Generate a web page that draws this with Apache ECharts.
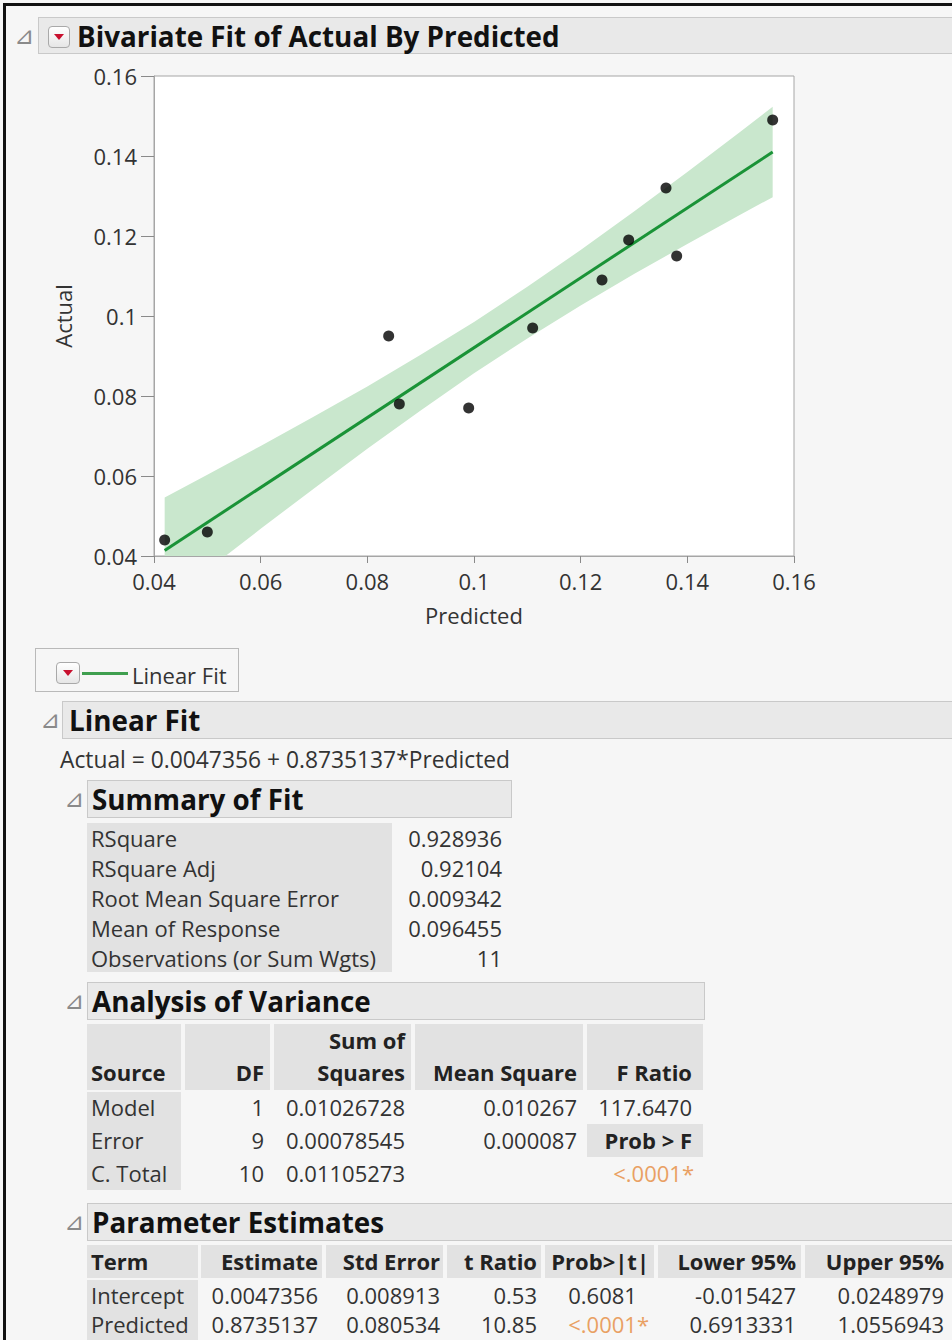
<!DOCTYPE html>
<html><head><meta charset="utf-8">
<script src="https://cdn.jsdelivr.net/npm/echarts@6/dist/echarts.min.js"></script>
<style>
html,body{margin:0;padding:0;background:#f6f6f6;}
body{position:relative;width:952px;height:1340px;overflow:hidden;font-family:'Open Sans',sans-serif;color:#333;}
.abs{position:absolute;white-space:nowrap;box-sizing:border-box;}
#chart{position:absolute;left:0;top:60px;width:952px;height:590px;}
</style></head>
<body>
<div id="chart"></div>
<script>
// ---------------- data ----------------
const predicted = [0.042, 0.050, 0.084, 0.086, 0.099, 0.111, 0.124, 0.129, 0.136, 0.138, 0.156];
const actual    = [0.044, 0.046, 0.095, 0.078, 0.077, 0.097, 0.109, 0.119, 0.132, 0.115, 0.149];
const fitX = [0.042, 0.156];
const fitY = [0.0414, 0.1410];
const bandX     = [0.042, 0.05, 0.06, 0.07, 0.08, 0.09, 0.10, 0.11, 0.12, 0.13, 0.14, 0.15, 0.156];
const bandLower = [0.0283, 0.0365, 0.0468, 0.0569, 0.0668, 0.0764, 0.0857, 0.0944, 0.1026, 0.1105, 0.1180, 0.1254, 0.1297];
const bandUpper = [0.0546, 0.0603, 0.0675, 0.0749, 0.0824, 0.0903, 0.0985, 0.1073, 0.1165, 0.1261, 0.1360, 0.1461, 0.1523];
const xTickLabels = ['0.04', '0.06', '0.08', '0.1', '0.12', '0.14', '0.16'];
const yTickLabels = ['0.04', '0.06', '0.08', '0.1', '0.12', '0.14', '0.16'];

const reportTitle = 'Bivariate Fit of Actual By Predicted';
const equationText = 'Actual = 0.0047356 + 0.8735137*Predicted';

const summaryLabels = ['RSquare', 'RSquare Adj', 'Root Mean Square Error', 'Mean of Response', 'Observations (or Sum Wgts)'];
const summaryValues = ['0.928936', '0.92104', '0.009342', '0.096455', '11'];

const anovaSource = ['Model', 'Error', 'C. Total'];
const anovaDF = ['1', '9', '10'];
const anovaSS = ['0.01026728', '0.00078545', '0.01105273'];
const anovaMS = ['0.010267', '0.000087', ''];
const anovaF = ['117.6470', 'Prob > F', '<.0001*'];

const peHeaders = ['Term', 'Estimate', 'Std Error', 't Ratio', 'Prob>|t|', 'Lower 95%', 'Upper 95%'];
const peTerm = ['Intercept', 'Predicted'];
const peEstimate = ['0.0047356', '0.8735137'];
const peStdErr = ['0.008913', '0.080534'];
const peT = ['0.53', '10.85'];
const peProb = ['0.6081', '<.0001*'];
const peLower = ['-0.015427', '0.6913331'];
const peUpper = ['0.0248979', '1.0556943'];

// ---------------- helpers ----------------
const W = 952;
function el(style, text) {
  const d = document.createElement('div');
  d.className = 'abs';
  Object.assign(d.style, style);
  if (text != null) d.textContent = text;
  document.body.appendChild(d);
  return d;
}
function rect(x1, y1, x2, y2, bg, border) {
  return el({left: x1 + 'px', top: y1 + 'px', width: (x2 - x1) + 'px', height: (y2 - y1) + 'px', background: bg, border: border || 'none'});
}
function txt(t, x, cy, opt) {
  opt = opt || {};
  const h = 34;
  const s = {top: (cy - h / 2) + 'px', height: h + 'px', lineHeight: h + 'px',
    fontSize: (opt.size || 22) + 'px', fontWeight: opt.bold ? '700' : '400', color: opt.color || '#333'};
  if (opt.align === 'right') { s.right = (W - x) + 'px'; s.textAlign = 'right'; }
  else s.left = x + 'px';
  const d = el(s, null);
  d.textContent = t;
  if (opt.pad) { const sp = document.createElement('span'); sp.style.visibility = 'hidden'; sp.textContent = opt.pad; d.appendChild(sp); }
  return d;
}
function tri(x, cy) {
  el({left: x + 'px', top: (cy - 15) + 'px', height: '30px', lineHeight: '30px', fontSize: '24px', color: '#8a8a8a', fontFamily: 'DejaVu Sans'}, '\u22BF');
}
function redBtn(x, y, w, h) {
  const b = el({left: x + 'px', top: y + 'px', width: w + 'px', height: h + 'px', border: '1px solid #a9a9a9', borderRadius: '4px', background: 'linear-gradient(#ffffff,#e6e6e6)'});
  const a = document.createElement('div');
  Object.assign(a.style, {position: 'absolute', left: ((w - 2) / 2 - 5) + 'px', top: ((h - 2) / 2 - 3) + 'px', width: 0, height: 0,
    borderLeft: '5px solid transparent', borderRight: '5px solid transparent', borderTop: '6px solid #c8102e'});
  b.appendChild(a);
}
function header(x1, y1, x2, y2, triX, textX, title) {
  rect(x1, y1, x2, y2, '#e9e9e9', '1px solid #c9c9c9');
  tri(triX, (y1 + y2) / 2);
  txt(title, textX, (y1 + y2) / 2, {bold: true, size: 27.8, color: '#111'});
}

// outer frame
el({left: '3px', top: '3px', width: '960px', height: '1350px', borderLeft: '3px solid #111', borderTop: '3px solid #111'});

// ---------------- report header ----------------
header(38, 17, 960, 54, 14, 77, reportTitle);
redBtn(48, 26, 22, 22);

// ---------------- legend ----------------
rect(35, 648, 239, 692, 'transparent', '1px solid #b9b9b9');
redBtn(56, 662, 24, 22);
rect(82, 672, 128, 675, '#3f9f4f');
txt('Linear Fit', 132, 675);

// ---------------- Linear Fit ----------------
header(62, 701, 960, 739, 40, 69, 'Linear Fit');
txt(equationText, 60, 760, {size: 22.8});

// ---------------- Summary of Fit ----------------
header(87, 780, 512, 818, 64, 92, 'Summary of Fit');
rect(87, 823, 392, 972, '#e2e2e2');
const sumY = [838, 868, 898, 928, 958];
summaryLabels.forEach((l, i) => { txt(l, 91, sumY[i]); txt(summaryValues[i], 502, sumY[i], {align: 'right'}); });

// ---------------- Analysis of Variance ----------------
header(87, 982, 705, 1020, 64, 92, 'Analysis of Variance');
const aCols = [[87, 181], [185, 270], [274, 411], [415, 583], [587, 703]];
aCols.forEach(c => rect(c[0], 1024, c[1], 1090, '#e2e2e2'));
rect(87, 1092, 181, 1190, '#e2e2e2');
rect(587, 1124, 703, 1157, '#e2e2e2');
const aHead = ['Source', 'DF', 'Squares', 'Mean Square', 'F Ratio'];
const aRight = [null, 264, 405, 577, 692];
txt('Sum of', 405, 1040, {align: 'right', bold: true, color: '#222'});
aHead.forEach((h, i) => {
  if (i === 0) txt(h, 91, 1072, {bold: true, color: '#222'});
  else txt(h, aRight[i], 1072, {bold: true, color: '#222', align: 'right'});
});
const aY = [1107, 1140, 1173];
anovaSource.forEach((s, i) => {
  txt(s, 91, aY[i]);
  txt(anovaDF[i], 264, aY[i], {align: 'right'});
  txt(anovaSS[i], 405, aY[i], {align: 'right'});
  if (anovaMS[i]) txt(anovaMS[i], 577, aY[i], {align: 'right'});
  const f = anovaF[i];
  if (f.indexOf('Prob') === 0) txt(f, 692, aY[i], {align: 'right', bold: true, color: '#222'});
  else if (f.indexOf('<') === 0) txt(f, 694, aY[i], {align: 'right', color: '#e9a063'});
  else txt(f, 692, aY[i], {align: 'right'});
});

// ---------------- Parameter Estimates ----------------
header(87, 1203, 960, 1241, 64, 92, 'Parameter Estimates');
const pCols = [[87, 198], [201, 322], [326, 443], [447, 541], [545, 654], [658, 801], [805, 960]];
pCols.forEach(c => rect(c[0], 1245, c[1], 1278, '#e2e2e2'));
rect(87, 1280, 198, 1345, '#e2e2e2');
const pRight = [null, 318, 440, 537, 649, 796, 944];
peHeaders.forEach((h, i) => {
  if (i === 0) txt(h, 91, 1261, {bold: true, color: '#222'});
  else txt(h, pRight[i], 1261, {bold: true, color: '#222', align: 'right'});
});
const pY = [1295, 1324];
const pColsData = [peEstimate, peStdErr, peT, peProb, peLower, peUpper];
peTerm.forEach((t, r) => {
  txt(t, 91, pY[r]);
  pColsData.forEach((col, c) => {
    const v = col[r];
    if (v.indexOf('<') === 0) txt(v, pRight[c + 1], pY[r], {align: 'right', color: '#e9a063'});
    else if (c === 3) txt(v, pRight[c + 1], pY[r], {align: 'right', pad: '*'});
    else txt(v, pRight[c + 1], pY[r], {align: 'right'});
  });
});

// ---------------- chart ----------------
const chart = echarts.init(document.getElementById('chart'), null, {renderer: 'svg'});
const labelFmt = (arr) => (v) => { const i = Math.round((v - 0.04) / 0.02); return arr[i] != null ? arr[i] : ''; };
const FONT = 'Open Sans';
chart.setOption({
  animation: false,
  grid: {left: 154, top: 16, width: 640, height: 480, show: true, borderColor: '#a6a6a6', borderWidth: 1, backgroundColor: '#ffffff'},
  xAxis: {
    type: 'value', min: 0.04, max: 0.16, interval: 0.02,
    name: 'Predicted', nameLocation: 'middle', nameGap: 48,
    nameTextStyle: {fontFamily: FONT, fontSize: 22, color: '#333'},
    axisLine: {show: true, lineStyle: {color: '#a6a6a6'}},
    axisTick: {show: true, inside: false, length: 7, lineStyle: {color: '#8a8a8a'}},
    axisLabel: {margin: 14, fontFamily: FONT, fontSize: 22, color: '#333', formatter: labelFmt(xTickLabels)},
    splitLine: {show: false}
  },
  yAxis: {
    type: 'value', min: 0.04, max: 0.16, interval: 0.02,
    name: 'Actual', nameLocation: 'middle', nameGap: 80, nameRotate: 90,
    nameTextStyle: {fontFamily: FONT, fontSize: 22, color: '#333'},
    axisLine: {show: true, lineStyle: {color: '#a6a6a6'}},
    axisTick: {show: true, inside: false, length: 13, lineStyle: {color: '#8a8a8a'}},
    axisLabel: {margin: 17, fontFamily: FONT, fontSize: 22, color: '#333', formatter: labelFmt(yTickLabels)},
    splitLine: {show: false}
  },
  series: [
    {type: 'custom', silent: true, z: 1, clip: true,
     data: [[bandX[0], bandUpper[0]]],
     renderItem: function (params, api) {
       const pts = [];
       for (let i = 0; i < bandX.length; i++) pts.push(api.coord([bandX[i], bandUpper[i]]));
       for (let i = bandX.length - 1; i >= 0; i--) pts.push(api.coord([bandX[i], bandLower[i]]));
       const cs = params.coordSys;
       return {type: 'group',
         clipPath: {type: 'rect', shape: {x: cs.x, y: cs.y, width: cs.width, height: cs.height}},
         children: [{type: 'polygon', shape: {points: pts, smooth: 0}, style: {fill: '#c9e7cd', stroke: null}}]};
     }},
    {type: 'line', silent: true, symbol: 'none', clip: true, z: 3,
     data: fitX.map((x, i) => [x, fitY[i]]), lineStyle: {color: '#1a9337', width: 3}},
    {type: 'scatter', silent: true, symbol: 'circle', symbolSize: 11, z: 4,
     data: predicted.map((x, i) => [x, actual[i]]), itemStyle: {color: '#000'}}
  ]
});
</script>
</body></html>
